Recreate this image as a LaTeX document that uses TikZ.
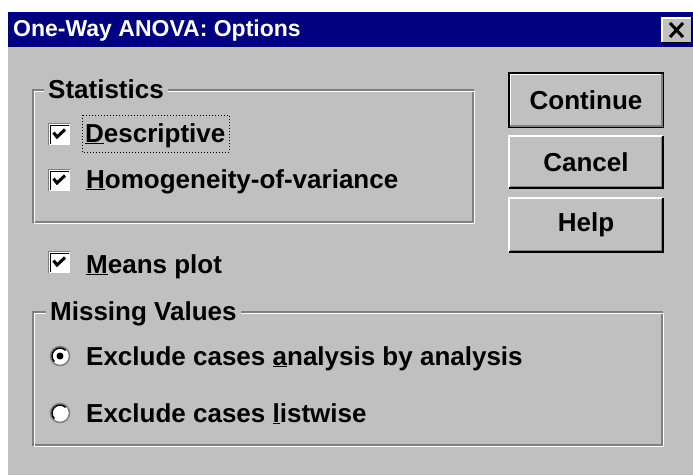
\documentclass[tikz,border=0pt]{standalone}
\usepackage{fontspec}
\setmainfont{Liberation Sans}
\definecolor{titlebar}{RGB}{0,0,128}
\definecolor{face}{RGB}{192,192,192}
\definecolor{dimface}{RGB}{128,128,128}

\begin{document}
\begin{tikzpicture}[x=1pt,y=-1pt,
  txt/.style={font=\fontsize{26}{30}\selectfont\bfseries, inner sep=0pt, anchor=base west},
  grp/.style={txt, fill=face, inner xsep=4pt},
  btn/.style={font=\fontsize{26}{30}\selectfont\bfseries, fill=face, minimum width=154pt, inner sep=0pt}]
  \useasboundingbox (0,0) rectangle (693,475);
  \fill[white] (0,0) rectangle (693,475);
  \fill[face] (8,12) rectangle (693,475);
  \fill[titlebar] (8,12) rectangle (693,47);
  \node[anchor=base west, inner sep=0pt, text=white, font=\fontsize{23}{27}\selectfont\bfseries] (title) at (13,36) {One-Way ANOVA: Options};
  % close box
  \fill[face] (661,17) rectangle (692,43);
  \draw[white, line width=1.5pt] (661.75,43) -- (661.75,17.75) -- (692,17.75);
  \draw[black, line width=1.5pt] (661,42.25) -- (691.25,42.25) -- (691.25,17);
  \draw[line width=3pt] (670,23) -- (683,37) (683,23) -- (670,37);
  % group boxes
  \foreach \a/\b/\c/\d in {33/90/473/222, 33/312/662/445} {
    \draw[dimface, line width=1.2pt] (\a,\b) rectangle (\c,\d);
    \draw[white, line width=1.2pt] (\a+1.5,\b+1.5) rectangle (\c+1.5,\d+1.5);
  }
  \node[grp] (stat) at (44,98) {Statistics};
  \node[grp] (miss) at (46,320) {Missing Values};
  % check boxes
  \foreach \y in {123,169,251} {
    \fill[white] (48,\y) rectangle (70,\y+22);
    \draw[dimface, line width=1.2pt] (48.6,\y+22) -- (48.6,\y+0.6) -- (70,\y+0.6);
    \draw[black, line width=1.5pt] (50.5,\y+21) -- (50.5,\y+2.5) -- (69,\y+2.5);
    \draw[line width=3pt] (53.5,\y+9.5) -- (57,\y+14) -- (65,\y+6.5);
  }
  \node[txt] (desc) at (85,142) {\underline{D}escriptive};
  \node[txt] (homo) at (86,188) {\underline{H}omogeneity-of-variance};
  \node[txt] (mean) at (86,273) {\underline{M}eans plot};
  \draw[dotted, line width=1pt] (82,115) rectangle (229,152);
  % radio buttons
  \foreach \y in {356,413} {
    \draw[dimface, fill=white, line width=1.5pt] (60,\y) circle (9.5pt);
    \draw[black, line width=1.5pt] ([shift={(45:8pt)}]60,\y) arc[start angle=45, end angle=225, radius=8pt];
  }
  \fill (60,356) circle (3.5pt);
  \node[txt] (excl) at (86,365) {Exclude cases \underline{a}nalysis by analysis};
  \node[txt] (list) at (86,422) {Exclude cases \underline{l}istwise};
  % buttons
  \node[btn, draw=black, line width=2.5pt, minimum height=54pt] (cont) at (586,100) {Continue};
  \node[btn, minimum height=52pt] (canc) at (586,162) {Cancel};
  \node[btn, minimum height=54pt] (help) at (586,225) {Help};
  \draw[white, line width=1.5pt] ([shift={(2.5pt,2.5pt)}]cont.south west) -- ([shift={(2.5pt,-2.5pt)}]cont.north west) -- ([shift={(-2.5pt,-2.5pt)}]cont.north east);
  \draw[dimface, line width=1.5pt] ([shift={(-2.5pt,-2.5pt)}]cont.north east) -- ([shift={(-2.5pt,2.5pt)}]cont.south east) -- ([shift={(2.5pt,2.5pt)}]cont.south west);
  \foreach \b in {canc,help} {
    \draw[white, line width=1.5pt] (\b.south west) -- (\b.north west) -- (\b.north east);
    \draw[black, line width=1.5pt] (\b.north east) -- (\b.south east) -- (\b.south west);
    \draw[dimface, line width=1.5pt] ([shift={(-1.5pt,-1.5pt)}]\b.north east) -- ([shift={(-1.5pt,1.5pt)}]\b.south east) -- ([shift={(1.5pt,1.5pt)}]\b.south west);
  }
\end{tikzpicture}
\end{document}
